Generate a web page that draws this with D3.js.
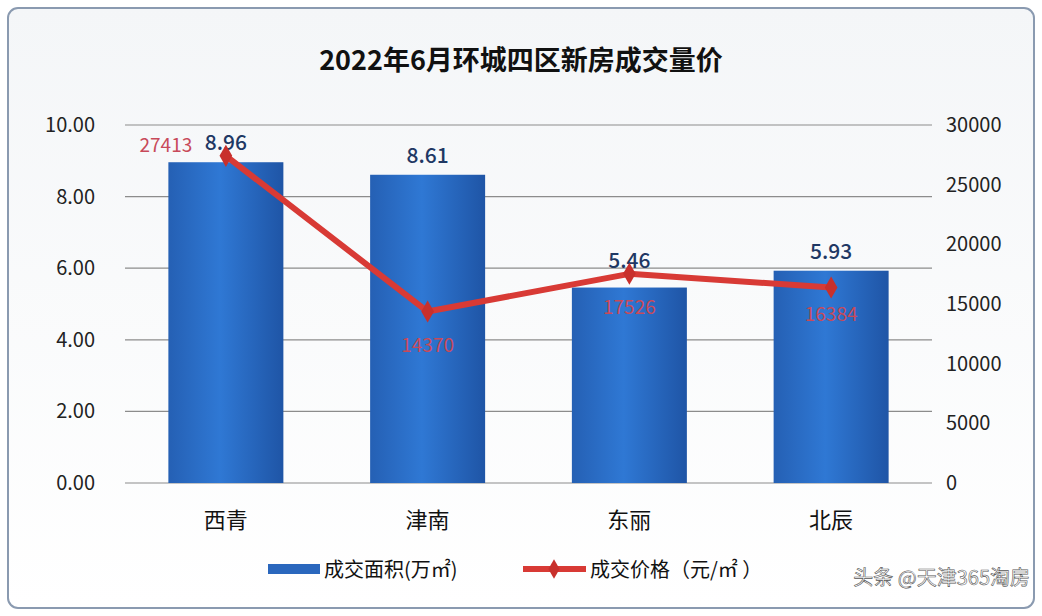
<!DOCTYPE html>
<html><head><meta charset="utf-8">
<script src="https://cdn.jsdelivr.net/npm/d3@7"></script>
<style>
body{margin:0;background:#fff;font-family:"Noto Sans CJK SC","Noto Sans",sans-serif}
</style></head><body>
<svg id="c" width="1042" height="616"></svg>
<script>
const categories = ["西青", "津南", "东丽", "北辰"];
const areaValues = [8.96, 8.61, 5.46, 5.93];
const priceValues = [27413, 14370, 17526, 16384];
const leftTicks = [0, 2, 4, 6, 8, 10];
const rightTicks = [0, 5000, 10000, 15000, 20000, 25000, 30000];

const svg = d3.select("#c");
const defs = svg.append("defs");
const bg = defs.append("linearGradient").attr("id", "bg").attr("x1", 0).attr("y1", 0).attr("x2", 0).attr("y2", 1);
bg.append("stop").attr("offset", 0).attr("stop-color", "#f4f6f8");
bg.append("stop").attr("offset", 1).attr("stop-color", "#ffffff");
const bar = defs.append("linearGradient").attr("id", "bar").attr("x1", 0).attr("y1", 0).attr("x2", 1).attr("y2", 0);
bar.append("stop").attr("offset", 0).attr("stop-color", "#2560b4");
bar.append("stop").attr("offset", 0.45).attr("stop-color", "#2f78d4");
bar.append("stop").attr("offset", 1).attr("stop-color", "#1f55a6");

svg.append("rect").attr("x", 8).attr("y", 8).attr("width", 1026).attr("height", 600).attr("rx", 10)
  .attr("fill", "url(#bg)").attr("stroke", "#8a9ab0").attr("stroke-width", 2);

svg.append("text").attr("x", 521).attr("y", 70).attr("text-anchor", "middle")
  .attr("font-size", 27).attr("font-weight", "bold").attr("fill", "#111").text("2022年6月环城四区新房成交量价");

const L = 125, R = 932, T = 125, B = 483;
const x = d3.scaleBand().domain(categories).range([L, R]).paddingInner(0.43).paddingOuter(0.215);
const yL = d3.scaleLinear().domain([0, 10]).range([B, T]);
const yR = d3.scaleLinear().domain([0, 30000]).range([B, T]);

svg.append("g").selectAll("line").data(leftTicks).join("line")
  .attr("x1", L).attr("x2", R).attr("y1", d => yL(d)).attr("y2", d => yL(d))
  .attr("stroke", "#8c8c8c").attr("stroke-width", 1.2);

svg.append("g").selectAll("text").data(leftTicks).join("text")
  .attr("x", 95).attr("y", d => yL(d) + 7).attr("text-anchor", "end")
  .attr("font-size", 20).attr("fill", "#222").text(d => d.toFixed(2));
svg.append("g").selectAll("text").data(rightTicks).join("text")
  .attr("x", 946).attr("y", d => yR(d) + 7).attr("text-anchor", "start")
  .attr("font-size", 20).attr("fill", "#222").text(d => d);

svg.append("g").selectAll("rect").data(areaValues).join("rect")
  .attr("x", (d, i) => x(categories[i])).attr("width", x.bandwidth())
  .attr("y", d => yL(d)).attr("height", d => B - yL(d)).attr("fill", "url(#bar)");

svg.append("g").selectAll("text").data(categories).join("text")
  .attr("x", d => x(d) + x.bandwidth() / 2).attr("y", 528).attr("text-anchor", "middle")
  .attr("font-size", 22).attr("fill", "#111").text(d => d);

svg.append("g").selectAll("text").data(areaValues).join("text")
  .attr("x", (d, i) => x(categories[i]) + x.bandwidth() / 2).attr("y", (d, i) => yL(d) - (i === 2 ? 20 : 12))
  .attr("text-anchor", "middle").attr("font-size", 21).attr("font-weight", 500).attr("fill", "#1f3864").text(d => d.toFixed(2));

const cx = i => x(categories[i]) + x.bandwidth() / 2;
svg.append("path").datum(priceValues)
  .attr("d", d3.line().x((d, i) => cx(i)).y(d => yR(d)))
  .attr("fill", "none").attr("stroke", "#d83a35").attr("stroke-width", 6).attr("stroke-linejoin", "round");
svg.append("g").selectAll("path").data(priceValues).join("path")
  .attr("transform", (d, i) => `translate(${cx(i)},${yR(d)})`)
  .attr("d", d3.symbol(d3.symbolDiamond, 140)).attr("fill", "#c8302c");

const priceLabelDy = [-4, 40, 40, 34];
const priceLabelDx = [-60, 0, 0, 0];
svg.append("g").selectAll("text").data(priceValues).join("text")
  .attr("x", (d, i) => cx(i) + priceLabelDx[i]).attr("y", (d, i) => yR(d) + priceLabelDy[i])
  .attr("text-anchor", "middle").attr("font-size", 19).attr("fill", "#c84a5a").text(d => d);

// legend
const lg = svg.append("g").attr("transform", "translate(268,569)");
lg.append("rect").attr("x", 0).attr("y", -5).attr("width", 52).attr("height", 10).attr("fill", "#2a67bd");
lg.append("text").attr("x", 56).attr("y", 8).attr("font-size", 20).attr("fill", "#111").text("成交面积(万㎡)");
lg.append("line").attr("x1", 255).attr("x2", 318).attr("y1", 0).attr("y2", 0).attr("stroke", "#d83a35").attr("stroke-width", 6);
lg.append("path").attr("transform", "translate(286,0)").attr("d", d3.symbol(d3.symbolDiamond, 110)).attr("fill", "#c8302c");
lg.append("text").attr("x", 322).attr("y", 8).attr("font-size", 20).attr("fill", "#111").text("成交价格（元/㎡ ）");

svg.append("text").attr("x", 1030).attr("y", 585).attr("text-anchor", "end")
  .attr("font-size", 20).attr("fill", "#fff").attr("stroke", "#555").attr("stroke-width", 0.6).text("头条 @天津365淘房");
</script></body></html>
